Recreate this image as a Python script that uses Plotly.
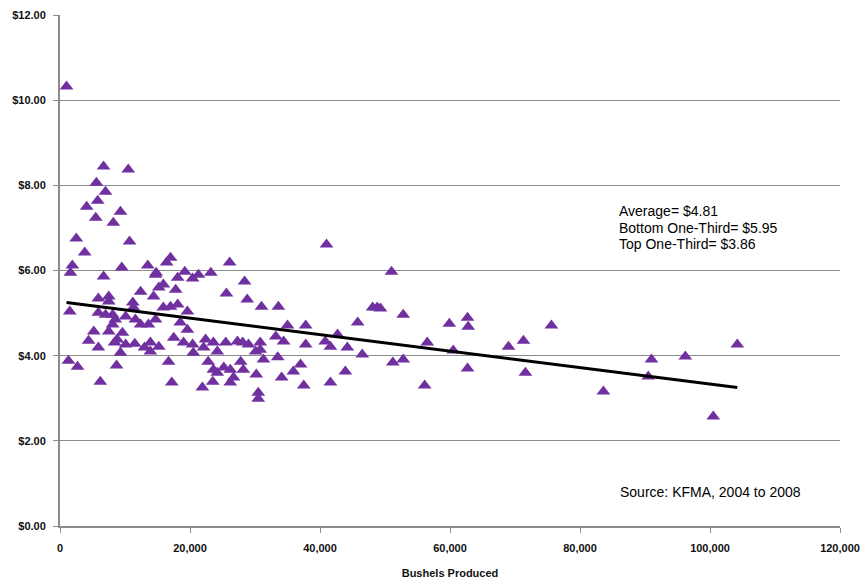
import plotly.graph_objects as go

# Farm-level observations: bushels produced vs. cost per bushel
bushels = [
    1000, 6700, 10500, 5600, 7000, 5800, 4100, 9300, 5500, 8200,
    2500, 10700, 3800, 17000, 16400, 1900, 1600, 6700, 9500, 13500,
    14700, 12400, 5900, 7500, 7500, 1500, 11200, 11300, 5900, 7000,
    8100, 8500, 10100, 11600, 12400, 13600, 8100, 7500, 5200, 4400,
    9600, 8800, 8400, 10100, 9300, 5900, 11500, 13900, 13900, 1300,
    2700, 8700, 6200, 13000, 26100, 14800, 19200, 18100, 20400, 21300,
    23200, 15900, 15200, 17800, 14400, 28400, 25600, 28800, 15900, 17000,
    18100, 19600, 14700, 18500, 19600, 17500, 19000, 20400, 22400, 23600,
    25500, 27300, 15200, 20500, 22100, 24200, 16700, 22800, 23600, 24200,
    25200, 26200, 27800, 28200, 26700, 23500, 17200, 21900, 26200, 41000,
    51000, 31000, 33600, 48100, 48800, 45800, 35000, 37800, 42700, 33200,
    34400, 40800, 41600, 28100, 29000, 30800, 30800, 30100, 37800, 44200,
    46500, 51200, 31300, 33500, 37000, 30200, 35900, 34100, 43900, 37500,
    41600, 30500, 30500, 49300, 52800, 59900, 62700, 62800, 75600, 56500,
    60500, 69000, 71300, 104200, 52800, 91000, 96200, 62700, 71600, 90500,
    56100, 83600, 100500,
]
cost = [
    10.32, 8.44, 8.37, 8.06, 7.85, 7.64, 7.50, 7.38, 7.24, 7.12,
    6.75, 6.68, 6.42, 6.30, 6.19, 6.12, 5.95, 5.86, 6.07, 6.12,
    5.90, 5.50, 5.34, 5.39, 5.27, 5.04, 5.25, 5.13, 5.01, 4.96,
    4.96, 4.85, 4.92, 4.85, 4.73, 4.73, 4.73, 4.57, 4.57, 4.35,
    4.54, 4.38, 4.31, 4.26, 4.07, 4.19, 4.28, 4.31, 4.10, 3.88,
    3.74, 3.77, 3.39, 4.19, 6.19, 5.95, 5.97, 5.83, 5.81, 5.90,
    5.95, 5.67, 5.60, 5.55, 5.39, 5.74, 5.46, 5.32, 5.13, 5.15,
    5.20, 5.04, 4.85, 4.78, 4.61, 4.42, 4.31, 4.26, 4.38, 4.31,
    4.31, 4.33, 4.21, 4.07, 4.19, 4.10, 3.86, 3.86, 3.67, 3.60,
    3.72, 3.67, 3.86, 3.67, 3.49, 3.39, 3.37, 3.25, 3.37, 6.61,
    5.97, 5.15, 5.15, 5.13, 5.13, 4.78, 4.71, 4.71, 4.50, 4.45,
    4.33, 4.33, 4.21, 4.31, 4.26, 4.31, 4.14, 4.10, 4.26, 4.19,
    4.03, 3.84, 3.91, 3.96, 3.79, 3.56, 3.63, 3.49, 3.63, 3.30,
    3.37, 3.13, 2.99, 5.11, 4.96, 4.75, 4.89, 4.68, 4.71, 4.31,
    4.12, 4.21, 4.35, 4.26, 3.91, 3.91, 3.98, 3.70, 3.60, 3.51,
    3.30, 3.16, 2.57,
]

# Linear trend across the observed range
trend_x = [1000, 104200]
trend_y = [5.25, 3.25]

y_ticks = [0, 2, 4, 6, 8, 10, 12]
y_tick_labels = ["$0.00", "$2.00", "$4.00", "$6.00", "$8.00", "$10.00", "$12.00"]
x_ticks = [0, 20000, 40000, 60000, 80000, 100000, 120000]
x_tick_labels = ["0", "20,000", "40,000", "60,000", "80,000", "100,000", "120,000"]

summary_lines = ["Average= $4.81", "Bottom One-Third= $5.95", "Top One-Third= $3.86"]
source_note = "Source: KFMA, 2004 to 2008"

fig = go.Figure()
fig.add_trace(go.Scatter(
    x=bushels, y=cost, mode="markers",
    marker=dict(symbol="triangle-up", size=12, color="#7030A0",
                line=dict(width=0)),
    showlegend=False, hoverinfo="x+y",
))
fig.add_trace(go.Scatter(
    x=trend_x, y=trend_y, mode="lines",
    line=dict(color="#000000", width=3),
    showlegend=False, hoverinfo="skip",
))

tick_font = dict(family="Liberation Sans", size=11, color="#111111")

fig.update_layout(
    width=863, height=582,
    margin=dict(l=60, r=23, t=15, b=56),
    paper_bgcolor="white", plot_bgcolor="white",
    xaxis=dict(
        range=[0, 120000], tickvals=x_ticks,
        ticktext=[f"<b>{t}</b>" for t in x_tick_labels],
        showgrid=False, zeroline=False, automargin=False,
        showline=True, linecolor="#8c8c8c", linewidth=1.5,
        ticks="outside", ticklen=5, tickcolor="#8c8c8c",
        tickfont=tick_font, ticklabelstandoff=6,
        title=dict(text="<b>Bushels Produced</b>", font=tick_font, standoff=16),
    ),
    yaxis=dict(
        range=[0, 12], tickvals=y_ticks,
        ticktext=[f"<b>{t}</b>" for t in y_tick_labels],
        showgrid=True, gridcolor="#8c8c8c", gridwidth=1,
        zeroline=False, automargin=False,
        showline=True, linecolor="#8c8c8c", linewidth=2,
        ticks="outside", ticklen=5, tickcolor="#8c8c8c",
        tickfont=tick_font, ticklabelstandoff=5,
    ),
    font=dict(family="Liberation Sans"),
)

# Summary statistics, one line per annotation for tight spacing
note_font = dict(family="Liberation Sans", size=14, color="#000000")
for i, line in enumerate(summary_lines):
    fig.add_annotation(
        x=0.714, y=0.616 - i * 0.0323, xref="paper", yref="paper",
        xanchor="left", yanchor="middle", align="left", showarrow=False,
        text=line, font=note_font,
    )
fig.add_annotation(
    x=0.716, y=0.0665, xref="paper", yref="paper",
    xanchor="left", yanchor="middle", align="left", showarrow=False,
    text=source_note, font=note_font,
)

fig.write_html("out.html")
